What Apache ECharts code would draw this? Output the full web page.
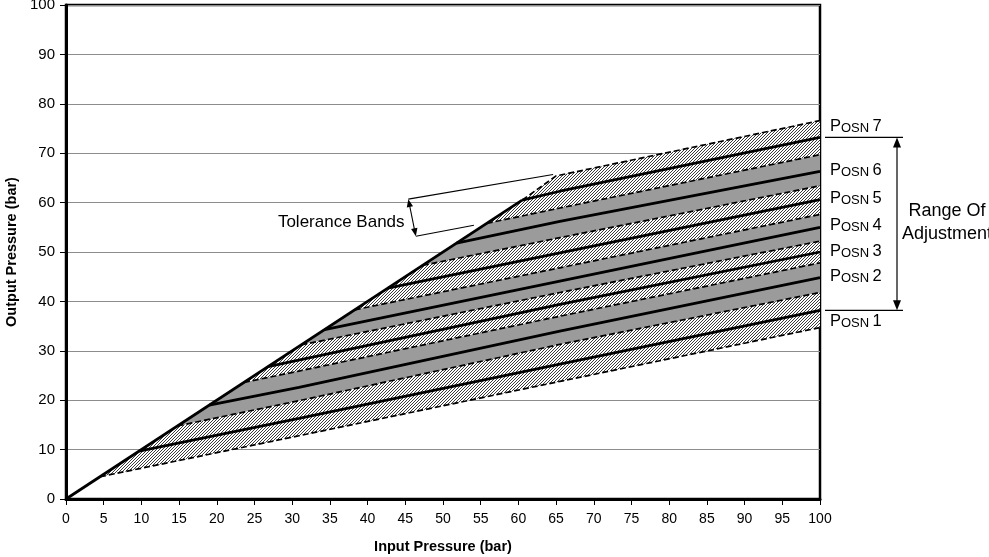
<!DOCTYPE html>
<html><head><meta charset="utf-8">
<script src="https://cdn.jsdelivr.net/npm/echarts@6/dist/echarts.min.js"></script>
<style>html,body{margin:0;padding:0;background:#fff}#c{width:989px;height:557px}</style>
</head><body><div id="c"></div>
<script>
// ---- data ----
// tolerance band boundaries (dashed), top to bottom, [input, output]
const b7Top = [[60.5,60.5],[65,65.4],[100,76.6]];
const b67   = [[55.8,55.8],[65.5,58.9],[100,69.7]];
const b56   = [[47.3,47.3],[65.5,52.9],[100,63.4]];
const b45   = [[38.3,38.3],[65.5,46.8],[100,57.6]];
const b34   = [[31.2,31.2],[65.5,41.8],[100,52.2]];
const b23   = [[23.6,23.6],[30.9,25.9],[65.5,37.0],[100,47.8]];
const b12   = [[14.8,14.8],[30.9,19.9],[65.5,31.3],[100,41.8]];
const b1Bot = [[4.5,4.5],[30.9,12.8],[65.5,23.8],[100,34.7]];
// nominal position lines (solid)
const posn7 = [[60.5,60.5],[65.5,62.3],[100,73.2]];
const posn6 = [[51.8,51.8],[65.5,56.2],[100,66.3]];
const posn5 = [[42.7,42.7],[65.5,49.8],[100,60.6]];
const posn4 = [[34.3,34.3],[65.5,44.1],[100,55.0]];
const posn3 = [[26.8,26.8],[65.5,39.4],[100,50.0]];
const posn2 = [[19.0,19.0],[30.9,22.6],[65.5,34.0],[100,44.8]];
const posn1 = [[9.7,9.7],[30.9,16.3],[65.5,27.3],[100,38.2]];
// limit line (input = output)
const diagonal = [[0,0],[60.5,60.5]];
// labels
const posnNames = ['7','6','5','4','3','2','1'];
const posnLabelY = [75.6, 66.7, 61.0, 55.4, 50.3, 45.1, 36.0];
const tolArrow = [[45.4,60.7],[46.4,53.2]];
const tolLeaderUpper = [[45.4,60.7],[64.6,65.7]];
const tolLeaderLower = [[46.4,53.2],[54.1,55.4]];
const tolTextAt = [44.9, 56.0];
const tolText = 'Tolerance Bands';
const rangeText = 'Range Of\nAdjustment';

// ---- derived lists ----
const dashedLines = [b7Top, b67, b56, b45, b34, b23, b12, b1Bot];
const solidLines = [posn7, posn6, posn5, posn4, posn3, posn2, posn1];
const bandLower = [b67, b56, b45, b34, b23, b12, b1Bot];
const bandUpper = [b7Top, b67, b56, b45, b34, b23, b12];
const bandHatched = [true, false, true, false, true, false, true];

const FONT = 'Liberation Sans, Arial, sans-serif';

const hatch = (function(){
  const c = document.createElement('canvas'); c.width = 3; c.height = 3;
  const g = c.getContext('2d');
  g.fillStyle = '#ffffff'; g.fillRect(0,0,3,3);
  g.fillStyle = '#3c3c3c';
  for (let i = 0; i < 3; i++) g.fillRect(i, 2 - i, 1, 1);
  return c;
})();

const series = [];
series.push({
  type: 'custom', coordinateSystem: 'cartesian2d', silent: true, z: 1,
  data: bandLower.map((_, i) => [i, 0]),
  renderItem(params, api) {
    const i = params.dataIndex;
    const pts = bandLower[i].map(p => api.coord(p))
      .concat(bandUpper[i].slice().reverse().map(p => api.coord(p)));
    return { type: 'polygon', shape: { points: pts },
      style: { fill: bandHatched[i] ? { image: hatch, repeat: 'repeat' } : '#9b9b9b', stroke: null } };
  }
});
dashedLines.forEach(d => series.push({
  type: 'line', data: d, showSymbol: false, symbol: 'none', silent: true, z: 3,
  lineStyle: { color: '#000', width: 1.7, type: [6, 3] }
}));
solidLines.forEach(d => series.push({
  type: 'line', data: d, showSymbol: false, symbol: 'none', silent: true, z: 4,
  lineStyle: { color: '#000', width: 2.8 }
}));
series.push({
  type: 'line', data: diagonal, showSymbol: false, symbol: 'none', silent: true, z: 4,
  lineStyle: { color: '#000', width: 2.8 }
});
// Posn labels
series.push({
  type: 'custom', coordinateSystem: 'cartesian2d', silent: true, z: 5, clip: false,
  data: posnLabelY.map(y => [100, y]),
  renderItem(params, api) {
    const i = params.dataIndex;
    const pt = api.coord([100, posnLabelY[i]]);
    return { type: 'text', x: pt[0] + 10, y: pt[1],
      style: { text: '{p|P}{s|OSN} {p|' + posnNames[i] + '}', align: 'left', verticalAlign: 'middle',
        rich: { p: { fontSize: 16.5, fontFamily: FONT, fill: '#000', verticalAlign: 'bottom', lineHeight: 18 },
                s: { fontSize: 13, fontFamily: FONT, fill: '#000', verticalAlign: 'bottom', lineHeight: 14.5 } } } };
  }
});
function arrowHead(tip, from, len, half) {
  const dx = tip[0] - from[0], dy = tip[1] - from[1];
  const L = Math.sqrt(dx*dx + dy*dy) || 1, ux = dx / L, uy = dy / L;
  const bx = tip[0] - ux * len, by = tip[1] - uy * len;
  return { type: 'polygon', shape: { points: [tip, [bx - uy*half, by + ux*half], [bx + uy*half, by - ux*half]] },
    style: { fill: '#000' } };
}
// Range of adjustment
series.push({
  type: 'custom', coordinateSystem: 'cartesian2d', silent: true, z: 5, clip: false,
  data: [[100, posn7[posn7.length-1][1]]],
  renderItem(params, api) {
    const top = api.coord(posn7[posn7.length-1]);
    const bot = api.coord(posn1[posn1.length-1]);
    const x0 = top[0] + 5, x1 = top[0] + 83, xa = top[0] + 77;
    return { type: 'group', children: [
      { type: 'line', shape: { x1: x0, y1: top[1], x2: x1, y2: top[1] }, style: { stroke: '#000', lineWidth: 1.2 } },
      { type: 'line', shape: { x1: x0, y1: bot[1], x2: x1, y2: bot[1] }, style: { stroke: '#000', lineWidth: 1.2 } },
      { type: 'line', shape: { x1: xa, y1: top[1] + 8, x2: xa, y2: bot[1] - 8 }, style: { stroke: '#000', lineWidth: 1.2 } },
      arrowHead([xa, top[1]], [xa, bot[1]], 10, 4),
      arrowHead([xa, bot[1]], [xa, top[1]], 10, 4),
      { type: 'text', x: top[0] + 127, y: (top[1] + bot[1]) / 2 - 1,
        style: { text: rangeText, align: 'center', verticalAlign: 'middle', fontSize: 18, lineHeight: 23, fontFamily: FONT, fill: '#000' } }
    ] };
  }
});
// Tolerance Bands annotation
series.push({
  type: 'custom', coordinateSystem: 'cartesian2d', silent: true, z: 6, clip: false,
  data: [tolTextAt],
  renderItem(params, api) {
    const a = api.coord(tolArrow[0]), b = api.coord(tolArrow[1]);
    const u0 = api.coord(tolLeaderUpper[0]), u1 = api.coord(tolLeaderUpper[1]);
    const l0 = api.coord(tolLeaderLower[0]), l1 = api.coord(tolLeaderLower[1]);
    const t = api.coord(tolTextAt);
    const dx = b[0]-a[0], dy = b[1]-a[1], L = Math.sqrt(dx*dx+dy*dy);
    const s = 7 / L;
    return { type: 'group', children: [
      { type: 'line', shape: { x1: u0[0], y1: u0[1], x2: u1[0], y2: u1[1] }, style: { stroke: '#000', lineWidth: 1.1 } },
      { type: 'line', shape: { x1: l0[0], y1: l0[1], x2: l1[0], y2: l1[1] }, style: { stroke: '#000', lineWidth: 1.1 } },
      { type: 'line', shape: { x1: a[0]+dx*s, y1: a[1]+dy*s, x2: b[0]-dx*s, y2: b[1]-dy*s }, style: { stroke: '#000', lineWidth: 1.1 } },
      arrowHead(a, b, 8, 3.2), arrowHead(b, a, 8, 3.2),
      { type: 'text', x: t[0], y: t[1], style: { text: tolText, align: 'right', verticalAlign: 'middle', fontSize: 17, fontFamily: FONT, fill: '#000' } }
    ] };
  }
});

const chart = echarts.init(document.getElementById('c'), null, { renderer: 'canvas' });
chart.setOption({
  animation: false,
  backgroundColor: '#fff',
  grid: { left: 66, right: 169, top: 5, bottom: 58, containLabel: false, outerBoundsMode: 'none',
          show: true, borderColor: '#000', borderWidth: 2.5, backgroundColor: 'transparent' },
  xAxis: {
    type: 'value', min: 0, max: 100, interval: 5,
    name: 'Input Pressure (bar)', nameLocation: 'middle', nameGap: 40,
    nameTextStyle: { fontFamily: FONT, fontWeight: 'bold', fontSize: 14.5, color: '#000' },
    axisLine: { show: true, onZero: false, lineStyle: { color: '#000', width: 3 } },
    axisTick: { show: true, inside: false, length: 6, lineStyle: { color: '#000', width: 1 } },
    axisLabel: { margin: 13, fontFamily: FONT, fontSize: 14, color: '#000' },
    splitLine: { show: false }
  },
  yAxis: {
    type: 'value', min: 0, max: 100, interval: 10,
    name: 'Output Pressure (bar)', nameLocation: 'middle', nameGap: 44, nameRotate: 90,
    nameTextStyle: { fontFamily: FONT, fontWeight: 'bold', fontSize: 14.5, color: '#000' },
    axisLine: { show: true, onZero: false, lineStyle: { color: '#000', width: 3 } },
    axisTick: { show: true, inside: false, length: 6, lineStyle: { color: '#000', width: 1 } },
    axisLabel: { margin: 11, fontFamily: FONT, fontSize: 15, color: '#000' },
    splitLine: { show: true, lineStyle: { color: '#8c8c8c', width: 1.2 } }
  },
  series: series
});
</script>
</body></html>
